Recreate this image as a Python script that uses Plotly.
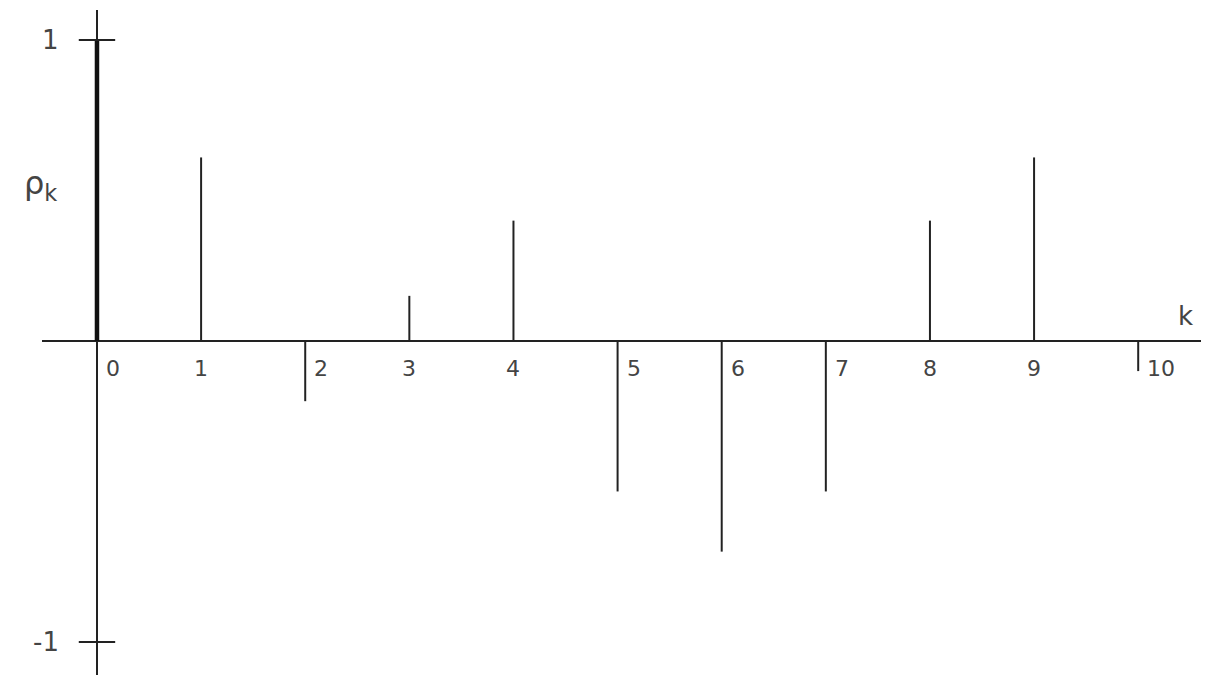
import plotly.graph_objects as go

# autocorrelation values
lags = [0, 1, 2, 3, 4, 5, 6, 7, 8, 9, 10]
rho = [1.0, 0.61, -0.2, 0.15, 0.4, -0.5, -0.7, -0.5, 0.4, 0.61, -0.1]
lag_labels = [str(k) for k in lags]
ytick_vals = [1, -1]
ytick_text = ["1", "-1"]

fig = go.Figure()

# stems (k=0 drawn thicker)
xs, ys = [], []
for k, r in zip(lags[1:], rho[1:]):
    xs += [k, k, None]
    ys += [0, r, None]
fig.add_trace(go.Scatter(x=xs, y=ys, mode="lines",
                         line=dict(color="#222", width=2), hoverinfo="skip"))
fig.add_trace(go.Scatter(x=[lags[0], lags[0]], y=[0, rho[0]], mode="lines",
                         line=dict(color="#111", width=4.5), hoverinfo="skip"))

# cross ticks on the vertical axis
fig.add_trace(go.Scatter(x=[0] * len(ytick_vals), y=ytick_vals, mode="markers",
                         marker=dict(symbol="line-ew", size=26,
                                     line=dict(color="#222", width=2)),
                         hoverinfo="skip"))

font = dict(family="DejaVu Sans", size=22, color="#444")

for k, r, lab in zip(lags, rho, lag_labels):
    if r < 0 or k == 0:
        fig.add_annotation(x=k, y=0, text=lab, showarrow=False, font=font,
                           xanchor="left", yanchor="middle", xshift=7, yshift=-27)
    else:
        fig.add_annotation(x=k, y=0, text=lab, showarrow=False, font=font,
                           xanchor="center", yanchor="middle", yshift=-27)

for v, t in zip(ytick_vals, ytick_text):
    fig.add_annotation(x=0, y=v, text=t, showarrow=False,
                       font=dict(family="DejaVu Sans", size=26, color="#444"),
                       xanchor="right", yanchor="middle", xshift=-36)

fig.add_annotation(x=0, y=0.52, text="ρ<sub>k</sub>", showarrow=False,
                   font=dict(family="DejaVu Sans", size=32, color="#444"),
                   xanchor="right", yanchor="middle", xshift=-38)
fig.add_annotation(x=10.45, y=0, text="k", showarrow=False,
                   font=dict(family="DejaVu Sans", size=26, color="#444"),
                   xanchor="center", yanchor="bottom", yshift=8)

fig.update_xaxes(range=[-0.528, 10.68], showgrid=False, showticklabels=False,
                 zeroline=True, zerolinecolor="#222", zerolinewidth=2,
                 fixedrange=True)
fig.update_yaxes(range=[-1.11, 1.1], showgrid=False, showticklabels=False,
                 zeroline=True, zerolinecolor="#222", zerolinewidth=2,
                 fixedrange=True)

# page has an 8px body margin, so shrink the figure to keep the axes in place
fig.update_layout(width=1201, height=667, showlegend=False,
                  margin=dict(l=34, r=0, t=2, b=0),
                  plot_bgcolor="white", paper_bgcolor="white")

fig.write_html("out.html")
